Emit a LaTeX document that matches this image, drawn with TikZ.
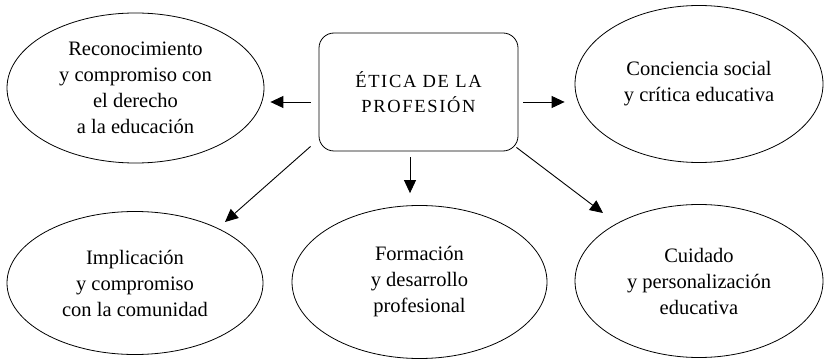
\documentclass[tikz,border=0pt]{standalone}
\usepackage{fontspec}
\setmainfont{Liberation Serif}
\usetikzlibrary{arrows.meta,shapes.geometric}
\begin{document}
\begin{tikzpicture}[x=1pt,y=1pt,
  oval/.style={draw, ellipse, line width=0.8pt, inner sep=0pt, align=center,
    font=\fontsize{20.5}{26}\selectfont},
  mainbox/.style={draw, rounded corners=15pt, line width=0.8pt, align=center,
    inner sep=0pt, font=\fontsize{18.5}{25}\selectfont\addfontfeature{LetterSpace=9}},
  arr/.style={line width=0.9pt, -{Triangle[length=13pt,width=12pt]}}]
\useasboundingbox (0,0) rectangle (824,359);
\node[mainbox, minimum width=199pt, minimum height=118pt] (box) at (418.5,267) {ÉTICA DE LA\\PROFESIÓN};
\node[oval, minimum width=257pt, minimum height=150pt] (tl) at (135.5,271) {Reconocimiento\\y compromiso con\\el derecho\\a la educación};
\node[oval, minimum width=248pt, minimum height=157pt] (tr) at (699,275) {Conciencia social\\y crítica educativa};
\node[oval, minimum width=256pt, minimum height=143pt] (bl) at (135,76) {Implicación\\y compromiso\\con la comunidad};
\node[oval, minimum width=255pt, minimum height=153pt] (bm) at (419.5,77) {Formación\\y desarrollo\\profesional};
\node[oval, minimum width=248pt, minimum height=153pt] (br) at (699,78) {Cuidado\\y personalización\\educativa};
\path (bl.center) ++(90,61) coordinate (blt);
\path (br.center) ++(-96,68) coordinate (brt);
\draw[arr, shorten <=8pt, shorten >=6pt] ([yshift=-10pt]box.west) -- ([yshift=-10pt]box.west -| tl.east);
\draw[arr, shorten <=5pt, shorten >=10pt] ([yshift=-10pt]box.east) -- ([yshift=-10pt]box.east -| tr.west);
\draw[arr, shorten <=6pt, shorten >=12pt] ([xshift=-8.5pt]box.south) -- ([xshift=-8.5pt]box.south |- bm.north);
\draw[arr] ([shift={(-8pt,5pt)}]box.south west) -- (blt);
\draw[arr] ([shift={(-2pt,4pt)}]box.south east) -- (brt);
\end{tikzpicture}
\end{document}
